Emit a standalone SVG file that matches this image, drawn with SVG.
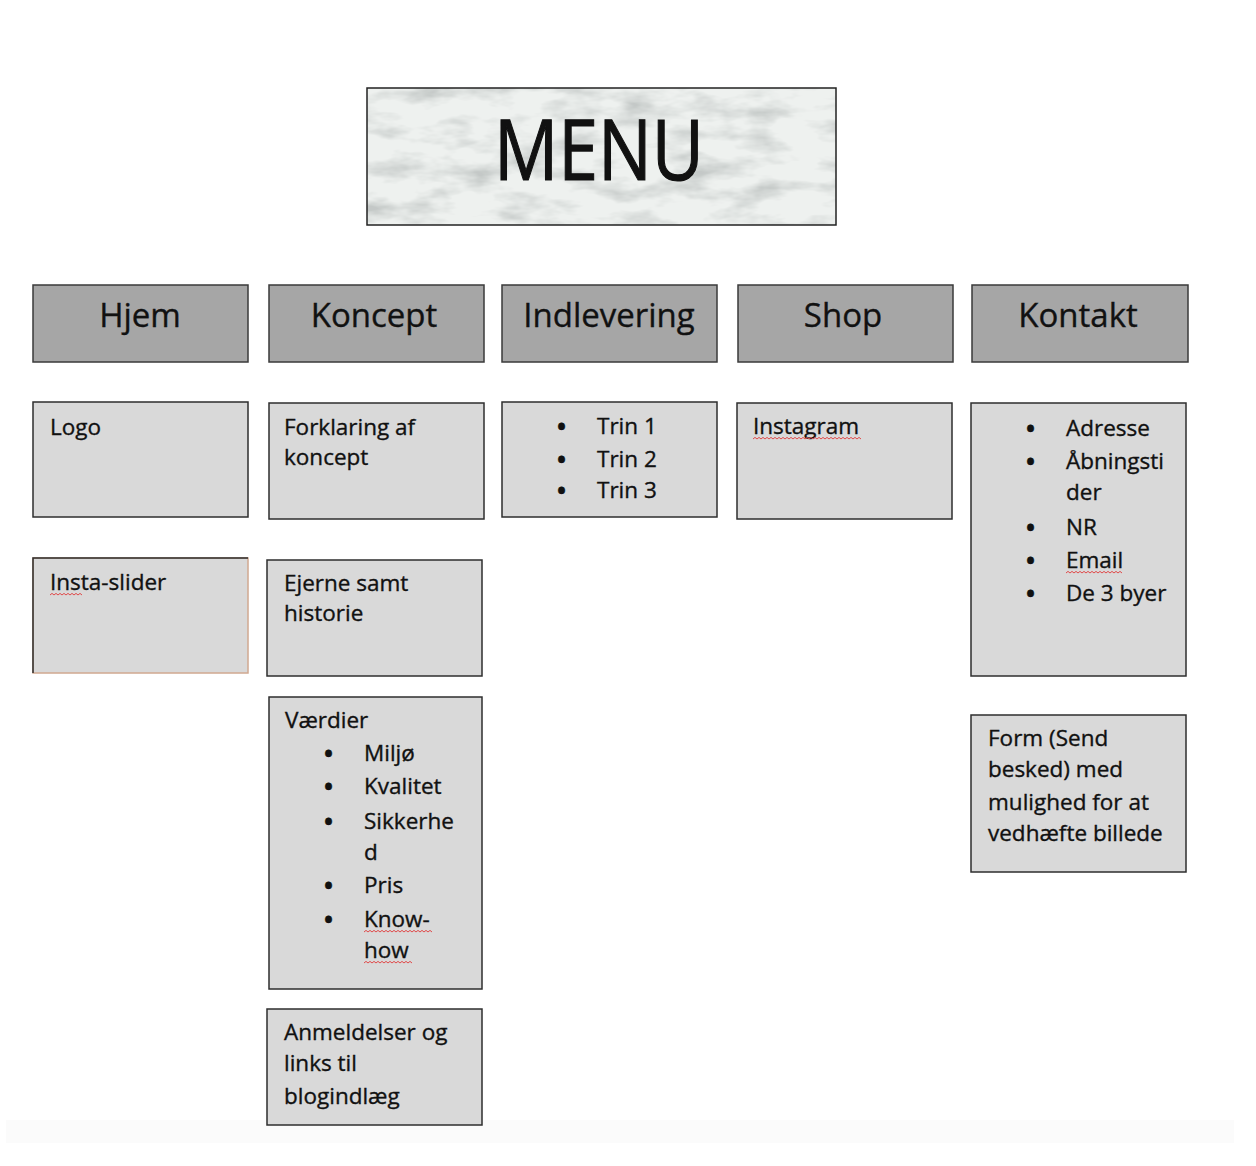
<svg xmlns="http://www.w3.org/2000/svg" width="1256" height="1166" viewBox="0 0 1256 1166">
<style>
  .head rect { fill: #a6a6a6; stroke: #3a3a3a; stroke-width: 1.5; }
  .box rect { fill: #d9d9d9; stroke: #2e2e2e; stroke-width: 1.5; }
  text { font-family: "Open Sans", "Noto Sans", "Liberation Sans", sans-serif; fill: #111; stroke: #111; stroke-width: 0.35; }
  .h { font-size: 33px; text-anchor: middle; }
  .t { font-size: 22.5px; }
  .b { font-size: 24px; font-weight: bold; }
  .sq { fill: none; stroke: #e04a4a; stroke-width: 1; }
</style>
<defs>
  <filter id="marble" x="0" y="0" width="100%" height="100%">
    <feTurbulence type="fractalNoise" baseFrequency="0.018 0.05" numOctaves="4" seed="7" result="n"/>
    <feColorMatrix in="n" type="matrix" values="0 0 0 0 0.55  0 0 0 0 0.58  0 0 0 0 0.57  0 0 0 -2.4 1.35" result="veins"/>
    <feFlood flood-color="#eef1ef" result="bg"/>
    <feComposite in="veins" in2="bg" operator="over" result="m"/>
    <feComposite in="m" in2="SourceGraphic" operator="in"/>
  </filter>
</defs>
<rect width="1256" height="1166" fill="#ffffff"/>
<rect x="6" y="1120" width="1228" height="23" fill="#fbfbfb"/>

<g id="menu">
  <rect x="367" y="88" width="469" height="137" fill="#e9ecea" filter="url(#marble)"/>
  <rect x="367" y="88" width="469" height="137" fill="none" stroke="#222" stroke-width="1.5"/>
  <text x="599" y="180" font-size="84" text-anchor="middle" textLength="210" lengthAdjust="spacingAndGlyphs" style="stroke-width:1.2">MENU</text>
</g>

<g id="head-hjem" class="head"><rect x="33" y="285" width="215" height="77"/><text class="h" x="140" y="327">Hjem</text></g>
<g id="head-koncept" class="head"><rect x="269" y="285" width="215" height="77"/><text class="h" x="374" y="327">Koncept</text></g>
<g id="head-indlevering" class="head"><rect x="502" y="285" width="215" height="77"/><text class="h" x="609" y="327">Indlevering</text></g>
<g id="head-shop" class="head"><rect x="738" y="285" width="215" height="77"/><text class="h" x="843" y="327">Shop</text></g>
<g id="head-kontakt" class="head"><rect x="972" y="285" width="216" height="77"/><text class="h" x="1078" y="327">Kontakt</text></g>

<g id="logo" class="box"><rect x="33" y="402" width="215" height="115"/><text class="t" x="50" y="435">Logo</text></g>

<g id="insta-slider" class="box">
  <rect x="33" y="558" width="215" height="115" style="stroke:#d0a890"/>
  <path d="M33 673 V558 H248" fill="none" stroke="#2e2e2e" stroke-width="1.5"/>
  <text class="t" x="50" y="590">Insta-slider</text>
  <path class="sq" d="M50 595 l2 -1.6 l2 1.6 l2 -1.6 l2 1.6 l2 -1.6 l2 1.6 l2 -1.6 l2 1.6 l2 -1.6 l2 1.6 l2 -1.6 l2 1.6 l2 -1.6 l2 1.6 l2 -1.6 l2 1.6"/>
</g>

<g id="forklaring" class="box"><rect x="269" y="403" width="215" height="116"/>
  <text class="t" x="284" y="435">Forklaring af</text><text class="t" x="284" y="465">koncept</text></g>

<g id="ejerne" class="box"><rect x="267" y="560" width="215" height="116"/>
  <text class="t" x="284" y="591">Ejerne samt</text><text class="t" x="284" y="621">historie</text></g>

<g id="vaerdier" class="box"><rect x="269" y="697" width="213" height="292"/>
  <text class="t" x="285" y="728">Værdier</text>
  <text class="b" x="324" y="762">•</text><text class="t" x="364" y="761">Miljø</text>
  <text class="b" x="324" y="795">•</text><text class="t" x="364" y="794">Kvalitet</text>
  <text class="b" x="324" y="830">•</text><text class="t" x="364" y="829">Sikkerhe</text>
  <text class="t" x="364" y="860">d</text>
  <text class="b" x="324" y="894">•</text><text class="t" x="364" y="893">Pris</text>
  <text class="b" x="324" y="928">•</text><text class="t" x="364" y="927">Know-</text>
  <text class="t" x="364" y="958">how</text>
  <path class="sq" d="M364 932 l2 -1.6 l2 1.6 l2 -1.6 l2 1.6 l2 -1.6 l2 1.6 l2 -1.6 l2 1.6 l2 -1.6 l2 1.6 l2 -1.6 l2 1.6 l2 -1.6 l2 1.6 l2 -1.6 l2 1.6 l2 -1.6 l2 1.6 l2 -1.6 l2 1.6 l2 -1.6 l2 1.6 l2 -1.6 l2 1.6 l2 -1.6 l2 1.6 l2 -1.6 l2 1.6 l2 -1.6 l2 1.6 l2 -1.6 l2 1.6 l2 -1.6 l2 1.6"/>
  <path class="sq" d="M364 963 l2 -1.6 l2 1.6 l2 -1.6 l2 1.6 l2 -1.6 l2 1.6 l2 -1.6 l2 1.6 l2 -1.6 l2 1.6 l2 -1.6 l2 1.6 l2 -1.6 l2 1.6 l2 -1.6 l2 1.6 l2 -1.6 l2 1.6 l2 -1.6 l2 1.6 l2 -1.6 l2 1.6 l2 -1.6 l2 1.6"/>
</g>

<g id="anmeldelser" class="box"><rect x="267" y="1009" width="215" height="116"/>
  <text class="t" x="284" y="1040">Anmeldelser og</text>
  <text class="t" x="284" y="1071">links til</text>
  <text class="t" x="284" y="1104">blogindlæg</text></g>

<g id="trin" class="box"><rect x="502" y="402" width="215" height="115"/>
  <text class="b" x="557" y="435">•</text><text class="t" x="597" y="434">Trin 1</text>
  <text class="b" x="557" y="468">•</text><text class="t" x="597" y="467">Trin 2</text>
  <text class="b" x="557" y="499">•</text><text class="t" x="597" y="498">Trin 3</text></g>

<g id="instagram" class="box"><rect x="737" y="403" width="215" height="116"/>
  <text class="t" x="753" y="434">Instagram</text>
  <path class="sq" d="M753 439 l2 -1.6 l2 1.6 l2 -1.6 l2 1.6 l2 -1.6 l2 1.6 l2 -1.6 l2 1.6 l2 -1.6 l2 1.6 l2 -1.6 l2 1.6 l2 -1.6 l2 1.6 l2 -1.6 l2 1.6 l2 -1.6 l2 1.6 l2 -1.6 l2 1.6 l2 -1.6 l2 1.6 l2 -1.6 l2 1.6 l2 -1.6 l2 1.6 l2 -1.6 l2 1.6 l2 -1.6 l2 1.6 l2 -1.6 l2 1.6 l2 -1.6 l2 1.6 l2 -1.6 l2 1.6 l2 -1.6 l2 1.6 l2 -1.6 l2 1.6 l2 -1.6 l2 1.6 l2 -1.6 l2 1.6 l2 -1.6 l2 1.6 l2 -1.6 l2 1.6 l2 -1.6 l2 1.6 l2 -1.6 l2 1.6 l2 -1.6 l2 1.6"/></g>

<g id="kontakt-info" class="box"><rect x="971" y="403" width="215" height="273"/>
  <text class="b" x="1026" y="437">•</text><text class="t" x="1066" y="436">Adresse</text>
  <text class="b" x="1026" y="470">•</text><text class="t" x="1066" y="469">Åbningsti</text>
  <text class="t" x="1066" y="500">der</text>
  <text class="b" x="1026" y="536">•</text><text class="t" x="1066" y="535">NR</text>
  <text class="b" x="1026" y="569">•</text><text class="t" x="1066" y="568">Email</text>
  <text class="b" x="1026" y="602">•</text><text class="t" x="1066" y="601">De 3 byer</text>
  <path class="sq" d="M1066 573 l2 -1.6 l2 1.6 l2 -1.6 l2 1.6 l2 -1.6 l2 1.6 l2 -1.6 l2 1.6 l2 -1.6 l2 1.6 l2 -1.6 l2 1.6 l2 -1.6 l2 1.6 l2 -1.6 l2 1.6 l2 -1.6 l2 1.6 l2 -1.6 l2 1.6 l2 -1.6 l2 1.6 l2 -1.6 l2 1.6 l2 -1.6 l2 1.6 l2 -1.6 l2 1.6"/></g>

<g id="form" class="box"><rect x="971" y="715" width="215" height="157"/>
  <text class="t" x="988" y="746">Form (Send</text>
  <text class="t" x="988" y="777">besked) med</text>
  <text class="t" x="988" y="810">mulighed for at</text>
  <text class="t" x="988" y="841">vedhæfte billede</text></g>

<g id="connectors"></g>
</svg>
